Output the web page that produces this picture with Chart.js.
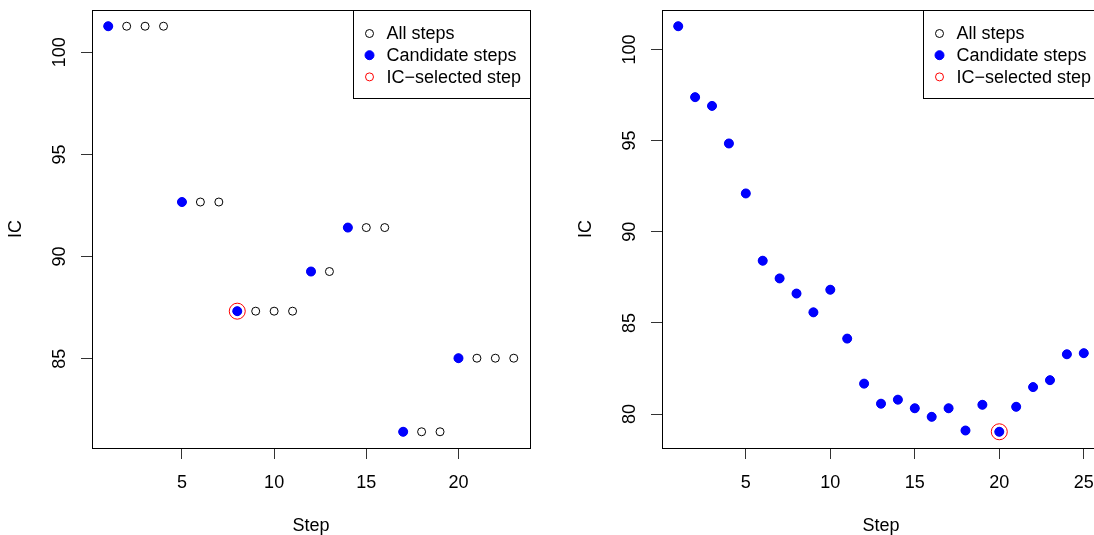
<!DOCTYPE html>
<html>
<head>
<meta charset="utf-8">
<script src="https://cdn.jsdelivr.net/npm/chart.js@4/dist/chart.umd.min.js"></script>
<style>
  html, body { margin: 0; padding: 0; background: #fff; overflow: hidden; }
  #wrap { position: relative; width: 1094px; height: 535px; overflow: hidden; }
  canvas { position: absolute; top: 0; }
  #leftChart { left: 0; }
  #rightChart { left: 570px; }
</style>
</head>
<body>
<div id="wrap">
  <canvas id="leftChart" width="570" height="535"></canvas>
  <canvas id="rightChart" width="570" height="535"></canvas>
</div>
<script>
// left panel: steps with repeated IC values
const leftSteps = [1, 2, 3, 4, 5, 6, 7, 8, 9, 10, 11, 12, 13, 14, 15, 16, 17, 18, 19, 20, 21, 22, 23];
const leftIC = [101.27, 101.27, 101.27, 101.27, 92.67, 92.67, 92.67, 87.33, 87.33, 87.33, 87.33,
  89.27, 89.27, 91.42, 91.42, 91.42, 81.43, 81.43, 81.43, 85.03, 85.03, 85.03, 85.03];
const leftCandidates = [1, 5, 8, 12, 14, 17, 20];
const leftSelected = 8;
const leftXTicks = [5, 10, 15, 20];
const leftYTicks = [85, 90, 95, 100];

// right panel: every step is a candidate
const rightSteps = [1, 2, 3, 4, 5, 6, 7, 8, 9, 10, 11, 12, 13, 14, 15, 16, 17, 18, 19, 20, 21, 22, 23, 24, 25];
const rightIC = [101.27, 97.38, 96.90, 94.84, 92.10, 88.41, 87.44, 86.61, 85.58, 86.82, 84.14, 81.67,
  80.57, 80.79, 80.32, 79.85, 80.32, 79.10, 80.51, 79.03, 80.40, 81.48, 81.86, 83.28, 83.34];
const rightCandidates = rightSteps;
const rightSelected = 20;
const rightXTicks = [5, 10, 15, 20, 25];
const rightYTicks = [80, 85, 90, 95, 100];

const legendLabels = ["All steps", "Candidate steps", "IC\u2212selected step"];
const xTitle = "Step";
const yTitle = "IC";

const FONT = "'Liberation Sans', Arial, Helvetica, sans-serif";
const FSIZE = 18;

// R style axis limits: data range plus 4% each side
function rRange(v) {
  const lo = Math.min(...v), hi = Math.max(...v);
  const d = (hi - lo) * 0.04;
  return { min: lo - d, max: hi + d };
}

const frameAndLegend = {
  id: 'frameAndLegend',
  afterDatasetsDraw(chart) {
    const { ctx, chartArea: a } = chart;
    ctx.save();
    ctx.strokeStyle = '#000';
    ctx.lineWidth = 1;
    const l = Math.round(a.left) + 0.5, t = Math.round(a.top) + 0.5;
    const r = Math.round(a.right) + 0.5, b = Math.round(a.bottom) + 0.5;
    ctx.strokeRect(l, t, r - l, b - t);

    // legend in the top right corner
    ctx.font = FSIZE + 'px ' + FONT;
    const sets = chart.data.datasets;
    const textW = Math.max(...sets.map(d => ctx.measureText(d.label).width));
    const w = 33 + textW + 9.5;
    const h = 88;
    const lx = Math.round(r - w) + 0.5;
    ctx.fillStyle = '#fff';
    ctx.fillRect(lx, t, r - lx, h);
    ctx.strokeRect(lx, t, r - lx, h);
    sets.forEach((d, i) => {
      const cy = t + 23 + i * 21.7;
      ctx.beginPath();
      ctx.arc(lx + 16, cy, d.legendRadius, 0, Math.PI * 2);
      if (d.pointBackgroundColor !== 'rgba(0,0,0,0)') {
        ctx.fillStyle = d.pointBackgroundColor;
        ctx.fill();
      }
      ctx.strokeStyle = d.pointBorderColor;
      ctx.stroke();
      ctx.fillStyle = '#000';
      ctx.textBaseline = 'middle';
      ctx.textAlign = 'left';
      ctx.fillText(d.label, lx + 33, cy + 1);
    });
    ctx.restore();
  }
};

function noPad(s) {
  s.paddingTop = 0;
  s.paddingBottom = 0;
  s.paddingLeft = 0;
  s.paddingRight = 0;
}

function makeChart(id, steps, ic, candidates, selected, xTicks, yTicks) {
  const pts = steps.map((s, i) => ({ x: s, y: ic[i] }));
  const cand = pts.filter(p => candidates.includes(p.x));
  const sel = pts.filter(p => p.x === selected);
  const xr = rRange(steps);
  const yr = rRange(ic);
  const font = { family: FONT, size: FSIZE };
  return new Chart(document.getElementById(id), {
    type: 'scatter',
    data: {
      datasets: [
        {
          label: legendLabels[0],
          data: pts,
          pointRadius: 4,
          pointBorderWidth: 1,
          pointBorderColor: '#000',
          pointBackgroundColor: 'rgba(0,0,0,0)',
          legendRadius: 4,
          order: 3
        },
        {
          label: legendLabels[1],
          data: cand,
          pointRadius: 4.5,
          pointBorderWidth: 1,
          pointBorderColor: '#0000ff',
          pointBackgroundColor: '#0000ff',
          legendRadius: 4.5,
          order: 2
        },
        {
          label: legendLabels[2],
          data: sel,
          pointRadius: 8,
          pointBorderWidth: 1,
          pointBorderColor: '#ff0000',
          pointBackgroundColor: 'rgba(0,0,0,0)',
          legendRadius: 4,
          order: 1
        }
      ]
    },
    options: {
      responsive: false,
      animation: false,
      devicePixelRatio: 1,
      layout: { padding: { left: 0, right: 40, top: 10, bottom: 0 } },
      plugins: { legend: { display: false }, tooltip: { enabled: false } },
      scales: {
        x: {
          type: 'linear',
          min: xr.min,
          max: xr.max,
          afterFit: s => { s.height = 87; noPad(s); },
          afterBuildTicks: s => { s.ticks = xTicks.map(v => ({ value: v })); },
          grid: { drawOnChartArea: false, tickLength: 11, color: '#333' },
          border: { display: false },
          ticks: { font, color: '#000', padding: 13, maxRotation: 0, autoSkip: false },
          title: { display: true, text: xTitle, color: '#000', font: { family: FONT, size: FSIZE, lineHeight: 1 }, padding: 0 }
        },
        y: {
          type: 'linear',
          min: yr.min,
          max: yr.max,
          afterFit: s => { s.width = 92; noPad(s); },
          afterBuildTicks: s => { s.ticks = yTicks.map(v => ({ value: v })); },
          grid: { drawOnChartArea: false, tickLength: 11, color: '#333' },
          border: { display: false },
          ticks: { font, color: '#000', padding: 6, minRotation: 90, maxRotation: 90, crossAlign: 'center', autoSkip: false },
          title: { display: true, text: yTitle, color: '#000', font: { family: FONT, size: FSIZE, lineHeight: 1 }, padding: { top: 7, bottom: 0 } }
        }
      }
    },
    plugins: [frameAndLegend]
  });
}

makeChart('leftChart', leftSteps, leftIC, leftCandidates, leftSelected, leftXTicks, leftYTicks);
makeChart('rightChart', rightSteps, rightIC, rightCandidates, rightSelected, rightXTicks, rightYTicks);
</script>
</body>
</html>
